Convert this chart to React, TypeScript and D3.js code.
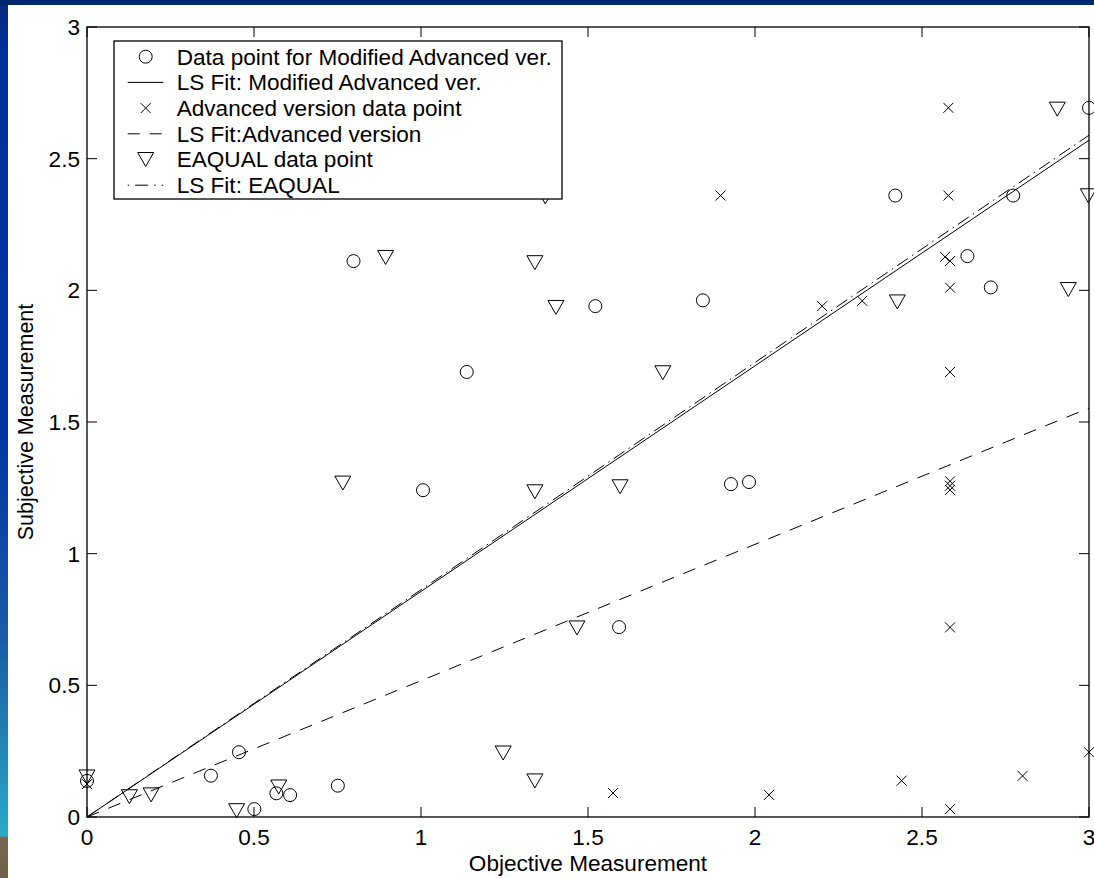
import React from "react";
import * as d3 from "d3";

// ---- Data ----
const modX = [0, 0.371, 0.455, 0.501, 0.567, 0.608, 0.751, 0.798, 1.006, 1.137, 1.522, 1.593, 1.844, 1.928, 1.982, 2.42, 2.636, 2.706, 2.773, 3.0];
const modY = [0.137, 0.157, 0.246, 0.03, 0.09, 0.083, 0.119, 2.111, 1.241, 1.69, 1.94, 0.721, 1.962, 1.264, 1.272, 2.36, 2.13, 2.011, 2.36, 2.693];

const advX = [0, 1.575, 1.897, 2.042, 2.201, 2.321, 2.439, 2.569, 2.579, 2.579, 2.584, 2.584, 2.584, 2.584, 2.584, 2.584, 2.584, 2.584, 2.801, 3.0];
const advY = [0.125, 0.091, 2.36, 0.084, 1.94, 1.96, 0.138, 2.127, 2.36, 2.693, 2.111, 2.01, 1.69, 1.275, 1.258, 1.242, 0.72, 0.03, 0.156, 0.246];

const eaqX = [0, 0.127, 0.192, 0.448, 0.574, 0.766, 0.894, 1.246, 1.341, 1.341, 1.341, 1.372, 1.404, 1.467, 1.596, 1.724, 2.426, 2.905, 2.938, 2.998];
const eaqY = [0.152, 0.077, 0.084, 0.024, 0.114, 1.268, 2.125, 0.243, 2.105, 1.235, 0.137, 2.355, 1.935, 0.718, 1.254, 1.687, 1.956, 2.688, 2.003, 2.359];

// least-squares fit lines (through origin), value reached at x = 3
const fitEnds = [
  { name: "mod", at3: 2.57 },
  { name: "adv", at3: 1.553 },
  { name: "eaq", at3: 2.589 },
];

const xTicks = [0, 0.5, 1, 1.5, 2, 2.5, 3];
const xTickLabels = ["0", "0.5", "1", "1.5", "2", "2.5", "3"];
const yTicks = [0, 0.5, 1, 1.5, 2, 2.5, 3];
const yTickLabels = ["0", "0.5", "1", "1.5", "2", "2.5", "3"];

const legendLabels = [
  "Data point for Modified Advanced ver.",
  "LS Fit: Modified Advanced ver.",
  "Advanced version data point",
  "LS Fit:Advanced version",
  "EAQUAL data point",
  "LS Fit: EAQUAL",
];

const W = 1094;
const H = 878;
const M = { left: 87, right: 1089, top: 27, bottom: 817 };
const FONT = "'Liberation Sans', Arial, Helvetica, sans-serif";
const FS = 21.5;
const SX = 1.05; // horizontal stretch of the reference's text

const x = d3.scaleLinear().domain([0, 3]).range([M.left, M.right]);
const y = d3.scaleLinear().domain([0, 3]).range([M.bottom, M.top]);

const CIRCLE_R = 6.5;
const XH = 5;
const TRI_W = 8;
const TRI_H = 7;

function T({
  x: tx,
  y: ty,
  anchor,
  children,
}: {
  x: number;
  y: number;
  anchor?: "start" | "middle" | "end";
  children: React.ReactNode;
}) {
  return (
    <text
      transform={`translate(${tx},${ty}) scale(${SX},1)`}
      textAnchor={anchor || "start"}
      fontSize={FS}
      fill="#000"
    >
      {children}
    </text>
  );
}

function Circle({ cx, cy }: { cx: number; cy: number }) {
  return <circle cx={cx} cy={cy} r={CIRCLE_R} fill="none" stroke="#000" strokeWidth={1} />;
}
function XMark({ cx, cy }: { cx: number; cy: number }) {
  return (
    <path
      d={`M${cx - XH},${cy - XH}L${cx + XH},${cy + XH}M${cx - XH},${cy + XH}L${cx + XH},${cy - XH}`}
      stroke="#000"
      strokeWidth={1}
      fill="none"
    />
  );
}
function Tri({ cx, cy }: { cx: number; cy: number }) {
  return (
    <path
      d={`M${cx - TRI_W},${cy - TRI_H}L${cx + TRI_W},${cy - TRI_H}L${cx},${cy + TRI_H}Z`}
      stroke="#000"
      strokeWidth={1}
      fill="none"
      strokeLinejoin="miter"
    />
  );
}

const dashStyles: Record<string, string | undefined> = {
  mod: undefined,
  adv: "13,10",
  eaq: "13,5,1.5,5",
};

export default function App() {
  const line = d3
    .line<[number, number]>()
    .x((d) => x(d[0]))
    .y((d) => y(d[1]));

  const legX = 114;
  const legY = 41;
  const legW = 448;
  const legH = 158;
  const rowH = 25.7;
  const row0 = 56.7;

  return (
    <svg
      width={W}
      height={H}
      style={{ position: "absolute", left: 0, top: 0, display: "block" }}
      fontFamily={FONT}
    >
      <defs>
        <linearGradient id="leftBand" x1="0" y1="0" x2="0" y2="1">
          <stop offset="0" stopColor="#0b2a78" />
          <stop offset="0.06" stopColor="#00309a" />
          <stop offset="0.5" stopColor="#0036a0" />
          <stop offset="0.72" stopColor="#1a5aa6" />
          <stop offset="0.85" stopColor="#2285b6" />
          <stop offset="0.952" stopColor="#2aabc6" />
          <stop offset="0.954" stopColor="#786851" />
          <stop offset="1" stopColor="#706149" />
        </linearGradient>
      </defs>
      <rect x={0} y={0} width={W} height={H} fill="#fff" />
      <rect x={0} y={0} width={8} height={H} fill="url(#leftBand)" />
      <rect x={0} y={0} width={W} height={5} fill="#00266e" />

      {/* fit lines */}
      {fitEnds.map((f) => (
        <path
          key={f.name}
          d={line([
            [0, 0],
            [3, f.at3],
          ]) || ""}
          fill="none"
          stroke="#000"
          strokeWidth={1}
          strokeDasharray={dashStyles[f.name]}
        />
      ))}

      {/* markers */}
      {modX.map((v, i) => (
        <Circle key={"c" + i} cx={x(v)} cy={y(modY[i])} />
      ))}
      {advX.map((v, i) => (
        <XMark key={"x" + i} cx={x(v)} cy={y(advY[i])} />
      ))}
      {eaqX.map((v, i) => (
        <Tri key={"t" + i} cx={x(v)} cy={y(eaqY[i])} />
      ))}

      {/* axes box */}
      <rect
        x={M.left}
        y={M.top}
        width={M.right - M.left}
        height={M.bottom - M.top}
        fill="none"
        stroke="#000"
        strokeWidth={1.3}
      />
      {xTicks.map((t, i) => (
        <g key={"xt" + i}>
          <line x1={x(t)} x2={x(t)} y1={M.bottom} y2={M.bottom - 10} stroke="#000" strokeWidth={1} />
          <line x1={x(t)} x2={x(t)} y1={M.top} y2={M.top + 10} stroke="#000" strokeWidth={1} />
          <T x={x(t)} y={M.bottom + 28} anchor="middle">
            {xTickLabels[i]}
          </T>
        </g>
      ))}
      {yTicks.map((t, i) => (
        <g key={"yt" + i}>
          <line x1={M.left} x2={M.left + 10} y1={y(t)} y2={y(t)} stroke="#000" strokeWidth={1} />
          <line x1={M.right} x2={M.right - 10} y1={y(t)} y2={y(t)} stroke="#000" strokeWidth={1} />
          <T x={80} y={y(t) + 8} anchor="end">
            {yTickLabels[i]}
          </T>
        </g>
      ))}

      <T x={(M.left + M.right) / 2} y={871} anchor="middle">
        Objective Measurement
      </T>
      <text
        transform={`translate(33,${(M.top + M.bottom) / 2}) rotate(-90)`}
        textAnchor="middle"
        fontSize={FS}
        fill="#000"
      >
        Subjective Measurement
      </text>

      {/* legend */}
      <rect x={legX} y={legY} width={legW} height={legH} fill="#fff" stroke="#000" strokeWidth={1.3} />
      {legendLabels.map((lab, i) => {
        const cy = row0 + i * rowH;
        const mx = 145.7;
        let sample: React.ReactNode = null;
        if (i === 0) sample = <Circle cx={mx} cy={cy} />;
        else if (i === 2) sample = <XMark cx={mx} cy={cy} />;
        else if (i === 4) sample = <Tri cx={mx} cy={cy} />;
        else {
          const key = i === 1 ? "mod" : i === 3 ? "adv" : "eaq";
          sample = (
            <line
              x1={127.7}
              x2={163.3}
              y1={cy}
              y2={cy}
              stroke="#000"
              strokeWidth={1}
              strokeDasharray={key === "adv" ? "12,10" : key === "eaq" ? "1.5,6,13,6" : undefined}
            />
          );
        }
        return (
          <g key={"lg" + i}>
            {sample}
            <T x={176.7} y={cy + 7.8}>
              {lab}
            </T>
          </g>
        );
      })}
    </svg>
  );
}
